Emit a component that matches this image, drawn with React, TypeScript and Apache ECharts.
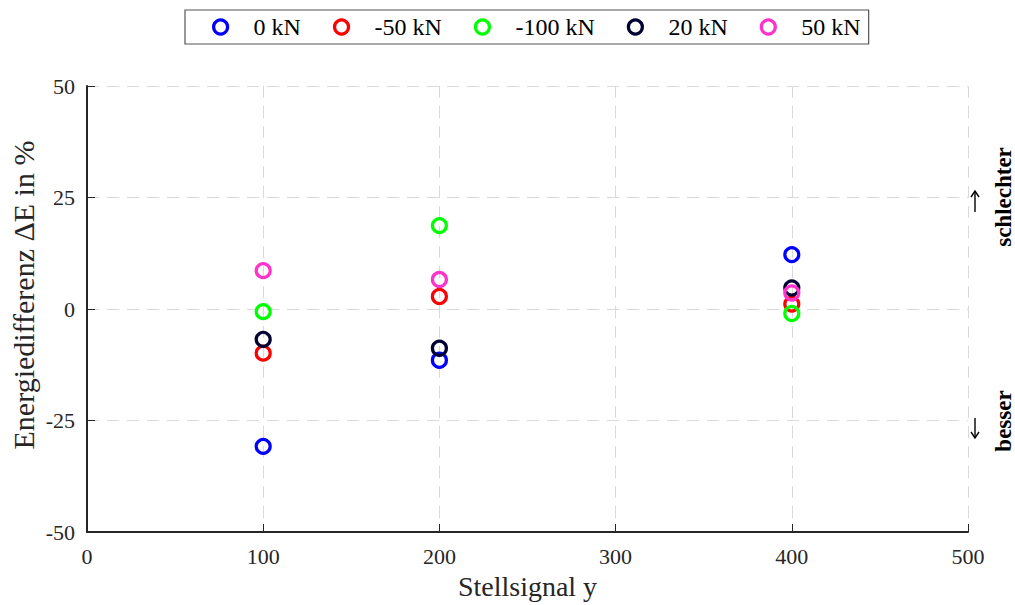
import React, { useEffect, useRef } from "react";
import * as echarts from "echarts";

// Stellsignal values (x) and the energy difference per load case (%)
const stellsignal = [100, 200, 400];
const seriesNames = ["0 kN", "-50 kN", "-100 kN", "20 kN", "50 kN"];
const seriesColors = ["#0000ff", "#ff0000", "#00ff00", "#000033", "#ff33cc"];
const values0kN = [-30.8, -11.5, 12.2];
const valuesMinus50kN = [-9.9, 2.8, 1.1];
const valuesMinus100kN = [-0.6, 18.7, -1.0];
const values20kN = [-6.8, -8.8, 4.7];
const values50kN = [8.6, 6.6, 3.6];
const seriesValues = [values0kN, valuesMinus50kN, valuesMinus100kN, values20kN, values50kN];
const xTicks = [0, 100, 200, 300, 400, 500];
const yTicks = [-50, -25, 0, 25, 50];

const FONT = "Liberation Serif";
const AXIS_COLOR = "#262626";

export default function App() {
  const ref = useRef<HTMLDivElement>(null);

  useEffect(() => {
    if (!ref.current) return;
    const chart = echarts.init(ref.current, undefined, { renderer: "svg" });

    const series = seriesNames.map((name, i) => ({
      name,
      type: "scatter",
      symbol: "circle",
      symbolSize: 14,
      data: stellsignal.map((x, j) => [x, seriesValues[i][j]]),
      itemStyle: {
        color: "rgba(255,255,255,0)",
        borderColor: seriesColors[i],
        borderWidth: 3.2,
        opacity: 1,
      },
      emphasis: { disabled: true },
    }));

    const splitLine = { show: true, lineStyle: { color: "#d9d9d9", type: [12, 8], width: 1 } };
    const arrowStyle = { stroke: "#000000", lineWidth: 1.4, fill: "none" };

    chart.setOption({
      animation: false,
      backgroundColor: "#ffffff",
      legend: {
        left: 185,
        top: 10,
        padding: [5, 8, 5, 27],
        itemGap: 32,
        itemWidth: 14,
        itemHeight: 14,
        borderColor: "#555555",
        borderWidth: 1.2,
        borderRadius: 0,
        selectedMode: false,
        itemStyle: { borderWidth: 3.2, opacity: 1 },
        textStyle: {
          fontFamily: FONT,
          fontSize: 24,
          lineHeight: 24,
          color: "#000000",
          padding: [0, 0, 0, 21],
        },
        data: seriesNames,
      },
      grid: { left: 87, right: 47, top: 86, bottom: 72, containLabel: false },
      xAxis: {
        type: "value",
        min: xTicks[0],
        max: xTicks[xTicks.length - 1],
        interval: 100,
        name: "Stellsignal y",
        nameLocation: "middle",
        nameGap: 40,
        nameTextStyle: { fontFamily: FONT, fontSize: 28, color: AXIS_COLOR },
        axisLine: { show: true, onZero: false, lineStyle: { color: AXIS_COLOR, width: 2 } },
        axisTick: { show: true, inside: true, length: 8, lineStyle: { color: AXIS_COLOR, width: 1 } },
        axisLabel: { fontFamily: FONT, fontSize: 22, color: AXIS_COLOR, margin: 13 },
        splitLine,
      },
      yAxis: {
        type: "value",
        min: yTicks[0],
        max: yTicks[yTicks.length - 1],
        interval: 25,
        axisLine: { show: true, onZero: false, lineStyle: { color: AXIS_COLOR, width: 2 } },
        axisTick: { show: true, inside: true, length: 8, lineStyle: { color: AXIS_COLOR, width: 1 } },
        axisLabel: { fontFamily: FONT, fontSize: 22, color: AXIS_COLOR, margin: 12 },
        splitLine,
      },
      graphic: [
        // y-axis title
        {
          type: "text",
          x: 23,
          y: 295,
          rotation: Math.PI / 2,
          style: {
            text: "Energiedifferenz \u0394E in %",
            font: `30px "${FONT}"`,
            fill: AXIS_COLOR,
            align: "center",
            verticalAlign: "middle",
          },
        },
        // right-hand annotations
        {
          type: "text",
          x: 1003,
          y: 197,
          rotation: Math.PI / 2,
          style: {
            text: "schlechter",
            font: `bold 23px "${FONT}"`,
            fill: "#000000",
            align: "center",
            verticalAlign: "middle",
          },
        },
        {
          type: "text",
          x: 1003,
          y: 421,
          rotation: Math.PI / 2,
          style: {
            text: "besser",
            font: `bold 23px "${FONT}"`,
            fill: "#000000",
            align: "center",
            verticalAlign: "middle",
          },
        },
        // up arrow
        { type: "line", shape: { x1: 975, y1: 212, x2: 975, y2: 192 }, style: arrowStyle },
        { type: "polyline", shape: { points: [[971, 197], [975, 191], [979, 197]] }, style: arrowStyle },
        // down arrow
        { type: "line", shape: { x1: 975, y1: 418, x2: 975, y2: 437 }, style: arrowStyle },
        { type: "polyline", shape: { points: [[971, 432], [975, 438], [979, 432]] }, style: arrowStyle },
      ],
      series,
    });

    return () => chart.dispose();
  }, []);

  return <div ref={ref} style={{ width: 1015, height: 605, position: "absolute", left: 0, top: 0 }} />;
}
